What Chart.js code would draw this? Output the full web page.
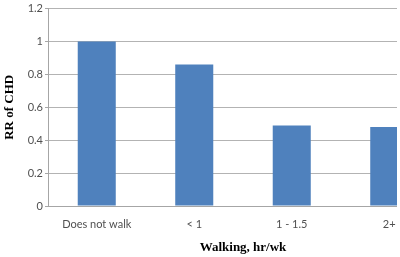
<!DOCTYPE html>
<html><head><meta charset="utf-8">
<script src="https://cdn.jsdelivr.net/npm/chart.js@4/dist/chart.umd.min.js"></script>
<style>
html,body{margin:0;padding:0;background:#fff;overflow:hidden;width:400px;height:257px;}
#wrap{position:absolute;left:0;top:0;width:440px;height:257px;}
#mask{position:absolute;left:397px;top:0;width:3px;height:257px;background:#fff;}
</style></head>
<body>
<div id="wrap"><canvas id="c"></canvas></div>
<div id="mask"></div>
<script>
const categories = ["Does not walk", "< 1", "1 - 1.5", "2+"];
const rrValues = [1.0, 0.86, 0.49, 0.48];
const yTitle = "RR of CHD";
const xTitle = "Walking, hr/wk";

const tickFont = {family: "Lato, 'Open Sans', sans-serif", size: 11};
const titleFont = {family: "'Liberation Serif', 'Times New Roman', serif", size: 13, weight: 'bold'};

new Chart(document.getElementById('c'), {
  type: 'bar',
  data: {
    labels: categories,
    datasets: [{
      data: rrValues,
      backgroundColor: '#4f81bd',
      borderWidth: 0,
      categoryPercentage: 1.0,
      barPercentage: 0.39
    }]
  },
  options: {
    responsive: true,
    maintainAspectRatio: false,
    animation: false,
    layout: {padding: {top: 8, right: 2, left: 0, bottom: 0}},
    plugins: {legend: {display: false}, tooltip: {enabled: false}},
    scales: {
      x: {
        grid: {display: false, drawTicks: false},
        border: {color: '#a6a6a6', width: 1},
        ticks: {color: '#505050', font: tickFont, padding: 12, maxRotation: 0},
        title: {display: true, text: xTitle, color: '#000', font: titleFont, padding: {top: 4, bottom: 2}},
        afterFit: s => { s.height = 51; }
      },
      y: {
        min: 0, max: 1.2,
        grid: {color: '#b3b3b3', tickLength: 3, tickColor: '#a6a6a6'},
        border: {color: '#a6a6a6', width: 1},
        ticks: {stepSize: 0.2, color: '#505050', font: tickFont, padding: 2,
                callback: v => String(Math.round(v*10)/10)},
        title: {display: true, text: yTitle, color: '#000', font: titleFont, padding: {top: 2, bottom: 0}},
        afterFit: s => { s.width = 48; }
      }
    }
  }
});
</script>
</body></html>
